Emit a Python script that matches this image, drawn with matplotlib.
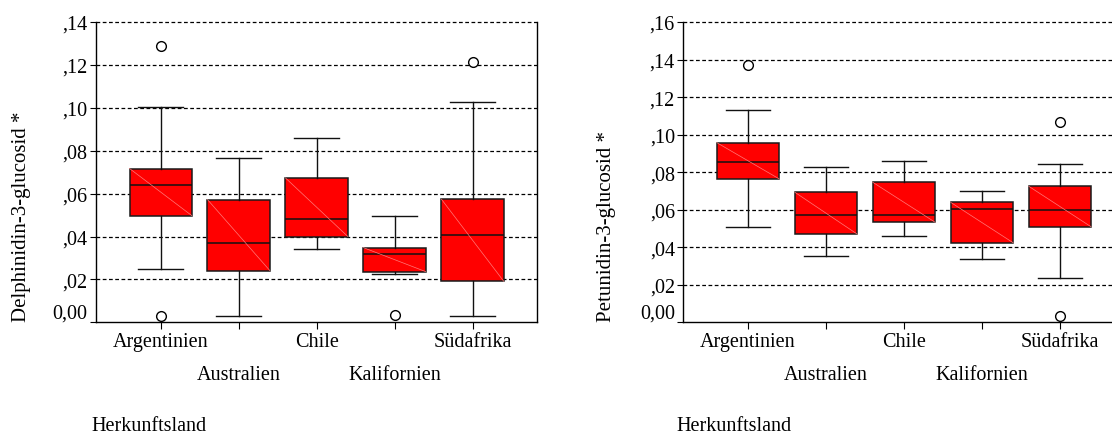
import matplotlib
matplotlib.use("Agg")
import matplotlib.pyplot as plt
from matplotlib.transforms import ScaledTranslation

plt.rcParams['font.family'] = ['Liberation Serif', 'DejaVu Serif']

categories = ['Argentinien', 'Australien', 'Chile', 'Kalifornien', 'Südafrika']
xlabel_text = 'Herkunftsland'

# Delphinidin-3-glucosid
d_whislo = [0.0250, 0.0031, 0.0341, 0.0224, 0.0031]
d_q1     = [0.0497, 0.0241, 0.0400, 0.0236, 0.0191]
d_med    = [0.0639, 0.0371, 0.0481, 0.0317, 0.0409]
d_q3     = [0.0717, 0.0572, 0.0673, 0.0348, 0.0574]
d_whishi = [0.1003, 0.0767, 0.0861, 0.0497, 0.1025]
d_fliers = [[0.1288, 0.0031], [], [], [0.0033], [0.1213]]
d_yticks = [0.00, 0.02, 0.04, 0.06, 0.08, 0.10, 0.12, 0.14]
d_yticklabels = ['0,00', ',02', ',04', ',06', ',08', ',10', ',12', ',14']
d_ylabel = 'Delphinidin-3-glucosid *'

# Petunidin-3-glucosid
p_whislo = [0.0509, 0.0351, 0.0458, 0.0337, 0.0236]
p_q1     = [0.0764, 0.0470, 0.0533, 0.0424, 0.0509]
p_med    = [0.0854, 0.0573, 0.0570, 0.0602, 0.0600]
p_q3     = [0.0957, 0.0693, 0.0746, 0.0639, 0.0725]
p_whishi = [0.1130, 0.0828, 0.0858, 0.0700, 0.0844]
p_fliers = [[0.1373], [], [], [], [0.1066, 0.0031]]
p_yticks = [0.00, 0.02, 0.04, 0.06, 0.08, 0.10, 0.12, 0.14, 0.16]
p_yticklabels = ['0,00', ',02', ',04', ',06', ',08', ',10', ',12', ',14', ',16']
p_ylabel = 'Petunidin-3-glucosid *'

FS = 14.5
W, H = 1112, 435
fig = plt.figure(figsize=(W / 100, H / 100), dpi=100)


def panel(left_px, whislo, q1, med, q3, whishi, fliers, yticks, yticklabels,
          ylabel, ylabel_x_px, xlabel_x_px):
    ax = fig.add_axes([left_px / W, (H - 323.3) / H, 441.3 / W, 300.3 / H])
    stats = []
    for i in range(len(categories)):
        stats.append(dict(whislo=whislo[i], q1=q1[i], med=med[i], q3=q3[i],
                          whishi=whishi[i], fliers=fliers[i], label=categories[i]))
    pos = list(range(len(categories)))
    ax.set_axisbelow(True)
    for y in yticks[1:]:
        ax.axhline(y, color='black', lw=0.9, ls=(0, (3, 2)), zorder=0.5,
                   clip_on=False)
    ax.bxp(stats, positions=pos, widths=0.8, patch_artist=True, showfliers=True,
           boxprops=dict(facecolor='#ff0000', edgecolor='#1a1a1a', linewidth=1.1),
           medianprops=dict(color='#111111', linewidth=1.1),
           whiskerprops=dict(color='#111111', linewidth=1.0),
           capprops=dict(color='#111111', linewidth=1.0),
           capwidths=0.57,
           flierprops=dict(marker='o', markerfacecolor='white', markeredgecolor='black',
                           markersize=7, markeredgewidth=1.0))
    # faint diagonal line inside each box
    for i in pos:
        ax.plot([i - 0.4, i + 0.4], [q3[i], q1[i]], color='#ff7a7a', lw=0.5, zorder=3)
    ax.set_xlim(-0.83, 4.83)
    ax.set_ylim(yticks[0], yticks[-1])
    ax.set_yticks(yticks)
    ax.set_yticklabels(yticklabels, fontsize=FS)
    ax.set_xticks(pos)
    ax.set_xticklabels(categories, fontsize=FS)
    ax.tick_params(axis='x', direction='out', length=5, width=0.8, pad=2)
    ax.tick_params(axis='y', direction='out', length=4, width=0.8, pad=2)
    for lab in ax.get_yticklabels()[:1]:
        lab.set_va('bottom')
    off = ScaledTranslation(0, -0.33, fig.dpi_scale_trans)
    for j, lab in enumerate(ax.get_xticklabels()):
        if j % 2 == 1:
            lab.set_transform(lab.get_transform() + off)
    for s in ax.spines.values():
        s.set_linewidth(1.0)
    ax.spines['top'].set_visible(False)
    fig.text(ylabel_x_px / W, (H - 322) / H, ylabel, rotation=90, ha='center',
             va='bottom', fontsize=15)
    fig.text(xlabel_x_px / W, (H - 427) / H, xlabel_text, ha='left', va='center',
             fontsize=FS)
    return ax


panel(96, d_whislo, d_q1, d_med, d_q3, d_whishi, d_fliers, d_yticks,
      d_yticklabels, d_ylabel, 22, 91)
panel(683.3, p_whislo, p_q1, p_med, p_q3, p_whishi, p_fliers, p_yticks,
      p_yticklabels, p_ylabel, 606, 676)

fig.savefig('out.png', dpi=100)
